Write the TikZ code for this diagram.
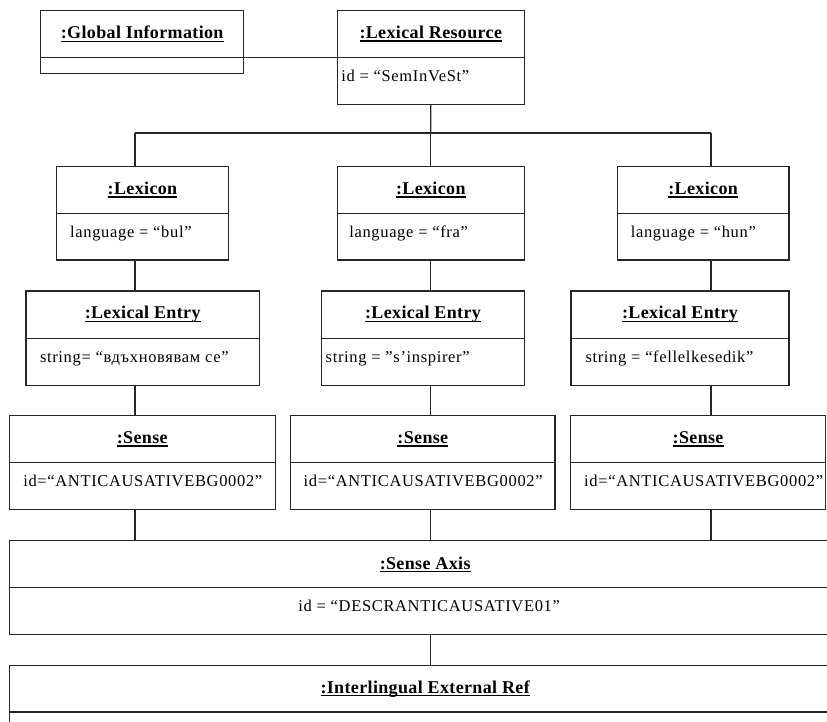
\documentclass[tikz,border=0pt]{standalone}
\usepackage{fontspec}
\setmainfont{Liberation Serif}
\newfontfamily\headfam[LetterSpace=2]{Liberation Serif}
\newfontfamily\bodyfam[LetterSpace=4]{Liberation Serif}
\definecolor{linec}{gray}{0.15}

% thick underline for object names
\newcommand\hdrul[1]{\setbox0\hbox{#1}\leavevmode\rlap{\rule[-2.8pt]{\wd0}{1.2pt}}\box0}

% UML object: name, left, top, right, divider, bottom, title, attribute, padding
\def\objal{l}
\newcommand\objbox[9]{%
  \pgfmathsetmacro\objw{#4-#2}%
  \pgfmathsetmacro\objtw{#4-#2-2*#9}%
  \pgfmathsetmacro\objhh{#5-#3}%
  \pgfmathsetmacro\objah{#6-#5}%
  \if\relax\detokenize{#8}\relax
    \tikzset{objattrv/.style={}}%
  \else
    \tikzset{objattrv/.style={text height=11.5pt,text depth=10.5pt}}%
  \fi
  \node[umlhead, minimum width=\objw pt, minimum height=\objhh pt]
    (#1) at ({(#2+#4)/2},{(#3+#5)/2}) {\hdrul{#7}};
  \node[umlattr, objattrv, minimum width=\objw pt, minimum height=\objah pt]
    (#1-a) at ({(#2+#4)/2},{(#5+#6)/2}) {\makebox[\objtw pt][\objal]{#8}};
}

\begin{document}
\begin{tikzpicture}[x=1pt,y=-1pt,
  umlpart/.style={rectangle, draw=linec, line width=1.2pt, inner sep=0pt, outer sep=0pt},
  umlhead/.style={umlpart, font=\headfam\bfseries\fontsize{18}{21}\selectfont},
  umlattr/.style={umlpart, font=\bodyfam\fontsize{16.5}{19}\selectfont},
  conn/.style={draw=linec, line width=1.2pt}]
\fill[white] (0,0) rectangle (827,722);
\useasboundingbox (0,0) rectangle (827,722);
\clip (0,0) rectangle (827,722);

% top row
\objbox{glob}{40.7}{10.7}{243.7}{57.3}{73.3}{:Global Information}{}{13}
\objbox{res}{337.3}{10.7}{524.3}{57.3}{104.3}{:Lexical Resource}{id = “SemInVeSt”}{4}

% lexicons
\objbox{lex1}{56.7}{166.7}{228.3}{213.3}{260}{:Lexicon}{language = “bul”}{13.5}
\objbox{lex2}{337.3}{166.7}{524.3}{213.3}{260}{:Lexicon}{language = “fra”}{12}
\objbox{lex3}{617.3}{166.7}{789}{213.3}{260}{:Lexicon}{language = “hun”}{13.5}

% lexical entries
\objbox{ent1}{26}{291}{259.3}{338.3}{385.3}{:Lexical Entry}{string= “вдъхновявам се”}{14}
\objbox{ent2}{321.7}{291}{524.3}{338.3}{385.3}{:Lexical Entry}{string = ”s’inspirer”}{4}
\objbox{ent3}{571}{291}{789}{338.3}{385.3}{:Lexical Entry}{string = “fellelkesedik”}{14.5}

% senses
\objbox{sen1}{9.3}{415.7}{275.3}{462.7}{509.3}{:Sense}{id=“ANTICAUSATIVEBG0002”}{14}
\objbox{sen2}{290.7}{415.7}{555}{462.7}{509.3}{:Sense}{id=“ANTICAUSATIVEBG0002”}{13}
\objbox{sen3}{570.7}{415.7}{825.5}{462.7}{509.3}{:Sense}{id=“ANTICAUSATIVEBG0002”}{13.5}

% sense axis and external reference
\def\objal{c}
\objbox{axis}{9.3}{540.7}{841}{587.7}{634.3}{:Sense Axis}{\hspace*{8pt}id = “DESCRANTICAUSATIVE01”}{20}
\objbox{inter}{9.3}{665.5}{841}{712}{760}{:Interlingual External Ref}{}{20}

% column lines and branching point
\coordinate (c1) at (135,133);
\coordinate (c2) at (430.7,133);
\coordinate (c3) at (711,133);

\draw[conn] (glob.south east) -- (res.south west);
\draw[conn] (res-a.south) -- (c2);
\draw[conn] (c1) -- (c3);
\draw[conn] (c1) -- (c1 |- lex1.north);
\draw[conn] (c2) -- (c2 |- lex2.north);
\draw[conn] (c3) -- (c3 |- lex3.north);

\draw[conn] (c1 |- lex1-a.south) -- (c1 |- ent1.north);
\draw[conn] (c2 |- lex2-a.south) -- (c2 |- ent2.north);
\draw[conn] (c3 |- lex3-a.south) -- (c3 |- ent3.north);

\draw[conn] (c1 |- ent1-a.south) -- (c1 |- sen1.north);
\draw[conn] (c2 |- ent2-a.south) -- (c2 |- sen2.north);
\draw[conn] (c3 |- ent3-a.south) -- (c3 |- sen3.north);

\draw[conn] (c1 |- sen1-a.south) -- (c1 |- axis.north);
\draw[conn] (c2 |- sen2-a.south) -- (c2 |- axis.north);
\draw[conn] (c3 |- sen3-a.south) -- (c3 |- axis.north);

\draw[conn] (c2 |- axis-a.south) -- (c2 |- inter.north);
\end{tikzpicture}
\end{document}
